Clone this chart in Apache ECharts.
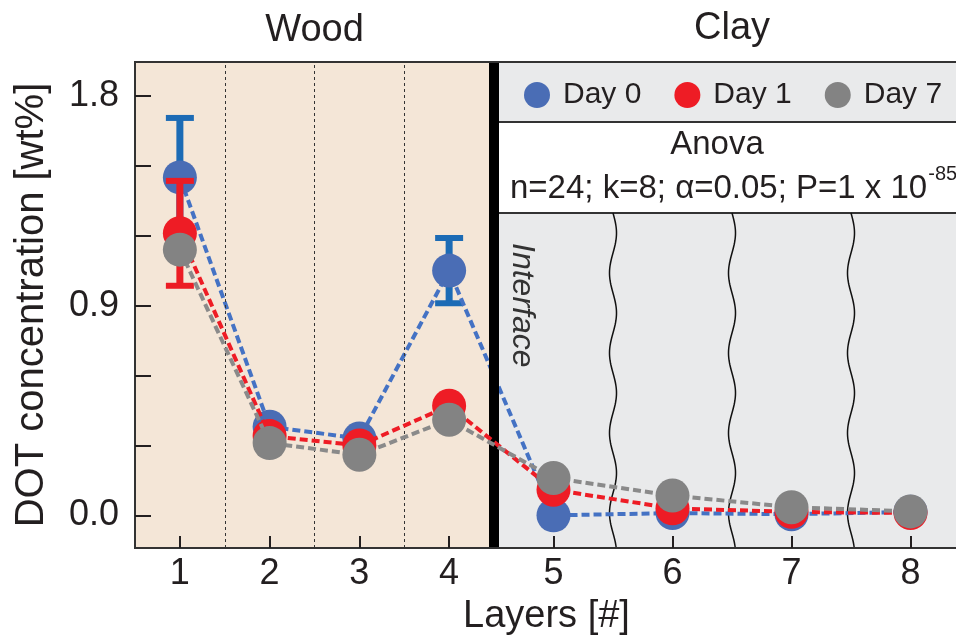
<!DOCTYPE html>
<html>
<head>
<meta charset="utf-8">
<script src="https://cdn.jsdelivr.net/npm/echarts@6/dist/echarts.min.js"></script>
<style>
  html, body { margin: 0; padding: 0; background: #fff; }
  #main { width: 956px; height: 640px; }
</style>
</head>
<body>
<div id="main"></div>
<script>
// layers and DOT values
var layers = [1, 2, 3, 4, 5, 6, 7, 8];
var day0 = [1.45, 0.38, 0.33, 1.05, 0.0, 0.01, 0.005, 0.015];
var day1 = [1.21, 0.34, 0.30, 0.47, 0.11, 0.03, 0.015, 0.01];
var day7 = [1.14, 0.31, 0.26, 0.41, 0.16, 0.085, 0.035, 0.017];
var err0 = [0.255, 0, 0, 0.14, 0, 0, 0, 0];
var err1 = [0.225, 0, 0, 0, 0, 0, 0, 0];
var seriesNames = ['Day 0', 'Day 1', 'Day 7'];
var yTicks = [0, 0.3, 0.6, 0.9, 1.2, 1.5, 1.8];
var yLabels = [0, 0.9, 1.8];
var woodDividers = [1.5, 2.5, 3.5];
var clayDividers = [5.5, 6.5, 7.5];
var interfaceAt = 4.5;

var FONT = 'Liberation Sans';
var INK = '#231f20';

// clay layers are drawn wider than wood layers
var clayScale = 119 / 89.75;
function xPos(l) { return l <= interfaceAt ? l : interfaceAt + (l - interfaceAt) * clayScale; }
function xLayer(v) { return v <= interfaceAt ? v : interfaceAt + (v - interfaceAt) / clayScale; }

function points(vals) {
  return layers.map(function (l, i) { return [xPos(l), vals[i]]; });
}

function lineSeries(name, vals, color, lineColor, z) {
  return {
    name: name,
    type: 'line',
    data: points(vals),
    symbol: 'circle',
    symbolSize: 34,
    itemStyle: { color: color },
    lineStyle: { color: lineColor, width: 4, type: [8, 4] },
    z: z,
    animation: false
  };
}

function errSeries(name, vals, errs, color, z) {
  var data = [];
  layers.forEach(function (l, i) {
    if (errs[i] > 0) data.push([xPos(l), vals[i], errs[i]]);
  });
  return {
    name: name,
    type: 'custom',
    data: data,
    z: z,
    silent: true,
    animation: false,
    encode: { x: 0, y: 1 },
    renderItem: function (params, api) {
      var x = api.value(0), y = api.value(1), e = api.value(2);
      var top = api.coord([x, y + e]);
      var bot = api.coord([x, y - e]);
      var hw = 14;
      var st = { stroke: color, lineWidth: 6 };
      return {
        type: 'group',
        children: [
          { type: 'line', shape: { x1: top[0], y1: top[1], x2: bot[0], y2: bot[1] }, style: { stroke: color, lineWidth: 7 } },
          { type: 'line', shape: { x1: top[0] - hw, y1: top[1], x2: top[0] + hw, y2: top[1] }, style: st },
          { type: 'line', shape: { x1: bot[0] - hw, y1: bot[1], x2: bot[0] + hw, y2: bot[1] }, style: st }
        ]
      };
    }
  };
}

var chart = echarts.init(document.getElementById('main'), null, { renderer: 'canvas' });

var option = {
  animation: false,
  textStyle: { fontFamily: FONT },
  grid: {
    left: 135, top: 62, width: 835, height: 486,
    outerBoundsMode: 'none',
    containLabel: false,
    show: true, borderColor: '#333', borderWidth: 2, z: 10
  },
  legend: {
    data: seriesNames,
    left: 524, top: 80, padding: 0,
    icon: 'circle', itemWidth: 26, itemHeight: 26, itemGap: 33,
    selectedMode: false,
    textStyle: { fontSize: 30, color: INK, fontFamily: FONT, padding: [0, 0, 0, 8] },
    z: 20
  },
  xAxis: {
    type: 'value',
    min: 0.5,
    max: xPos(8.5),
    z: 10,
    axisLine: { onZero: false, lineStyle: { color: '#333', width: 2 } },
    axisTick: { customValues: layers.map(xPos), inside: true, length: 12, lineStyle: { color: INK, width: 2 } },
    axisLabel: {
      customValues: layers.map(xPos),
      formatter: function (v) { return String(Math.round(xLayer(v))); },
      fontSize: 36, color: INK, margin: 8, fontFamily: FONT
    },
    splitLine: { show: false },
    name: 'Layers [#]',
    nameLocation: 'middle',
    nameGap: 50,
    nameTextStyle: { fontSize: 38, color: INK, fontFamily: FONT, padding: [0, 12, 0, 0] }
  },
  yAxis: {
    type: 'value',
    min: -0.14,
    max: 1.945,
    z: 10,
    axisLine: { show: true, onZero: false, lineStyle: { color: '#333', width: 2 } },
    axisTick: { customValues: yTicks, inside: true, length: 16, lineStyle: { color: INK, width: 2 } },
    axisLabel: {
      customValues: yLabels,
      formatter: function (v) { return v.toFixed(1); },
      fontSize: 36, color: INK, margin: 16, fontFamily: FONT
    },
    splitLine: { show: false },
    name: 'DOT concentration [wt%]',
    nameLocation: 'middle',
    nameGap: 83,
    nameTextStyle: { fontSize: 40, color: INK, fontFamily: FONT }
  },
  series: [
    {
      name: 'bg',
      type: 'line',
      data: [],
      z: 1,
      silent: true,
      markArea: {
        silent: true,
        data: [
          [{ xAxis: 0.5, itemStyle: { color: '#f4e6d7' } }, { xAxis: xPos(interfaceAt) }],
          [{ xAxis: xPos(interfaceAt), itemStyle: { color: '#e9eaeb' } }, { xAxis: xPos(8.5) }]
        ]
      },
      markLine: {
        silent: true,
        symbol: 'none',
        label: { show: false },
        data: woodDividers.map(function (d) {
          return { xAxis: xPos(d), lineStyle: { color: '#333', width: 1, type: [3, 3] } };
        }).concat([{ xAxis: xPos(interfaceAt), lineStyle: { color: '#000', width: 10, type: 'solid' } }])
      }
    },
    errSeries('err0', day0, err0, '#1c6bb5', 3),
    lineSeries('Day 0', day0, '#4a6db5', '#4472c4', 4),
    errSeries('err1', day1, err1, '#ec1c24', 5),
    lineSeries('Day 1', day1, '#ee1c25', '#ee1c25', 6),
    lineSeries('Day 7', day7, '#838383', '#8a8a8a', 7)
  ]
};

chart.setOption(option);

// decorations placed from the grid's pixel layout
function px(v) { return chart.convertToPixel({ gridIndex: 0 }, [v, 0])[0]; }
var xi = px(xPos(interfaceAt));
var xRight = px(xPos(8.5));
var xLeft = px(0.5);
var boxTop = 122, boxBottom = 213, plotBottom = 548;

var ctx = document.createElement('canvas').getContext('2d');
ctx.font = '33px "' + FONT + '"';
var statText = 'n=24; k=8; α=0.05; P=1 x 10';
var statW = ctx.measureText(statText).width;

var elements = [
  { type: 'text', x: (xLeft + xi) / 2, y: 31, z: 20, style: { text: 'Wood', font: '38px "' + FONT + '"', fill: INK, align: 'center', verticalAlign: 'middle' } },
  { type: 'text', x: (xi + xRight) / 2, y: 29, z: 20, style: { text: 'Clay', font: '38px "' + FONT + '"', fill: INK, align: 'center', verticalAlign: 'middle' } },
  { type: 'rect', z: 2, shape: { x: xi + 5, y: boxTop, width: xRight - xi - 5, height: boxBottom - boxTop }, style: { fill: '#fff' } },
  { type: 'line', z: 2, shape: { x1: xi + 5, y1: boxTop, x2: xRight, y2: boxTop }, style: { stroke: '#333', lineWidth: 2 } },
  { type: 'line', z: 2, shape: { x1: xi + 5, y1: boxBottom, x2: xRight, y2: boxBottom }, style: { stroke: '#333', lineWidth: 2 } },
  { type: 'text', x: 717, y: 145, z: 20, style: { text: 'Anova', font: '33px "' + FONT + '"', fill: INK, align: 'center', verticalAlign: 'middle' } },
  { type: 'text', x: 510, y: 189, z: 20, style: { text: statText, font: '33px "' + FONT + '"', fill: INK, align: 'left', verticalAlign: 'middle' } },
  { type: 'text', x: 510 + statW + 1, y: 174, z: 20, style: { text: '-85', font: '20px "' + FONT + '"', fill: INK, align: 'left', verticalAlign: 'middle' } },
  { type: 'text', x: xi + 28, y: 243, rotation: -Math.PI / 2, z: 20, style: { text: 'Interface', font: 'italic 32px "' + FONT + '"', fill: '#333', align: 'left', verticalAlign: 'middle' } }
];

// wavy separators between clay layers
clayDividers.forEach(function (d) {
  var x0 = px(xPos(d));
  var pts = [];
  for (var y = boxBottom; y <= plotBottom; y += 2) {
    pts.push([x0 + 3.5 * Math.sin((y - boxBottom) / 80 * 2 * Math.PI), y]);
  }
  elements.push({ type: 'polyline', z: 2, shape: { points: pts }, style: { stroke: '#111', lineWidth: 1.5, fill: null } });
});

chart.setOption({ graphic: { elements: elements } });
</script>
</body>
</html>
